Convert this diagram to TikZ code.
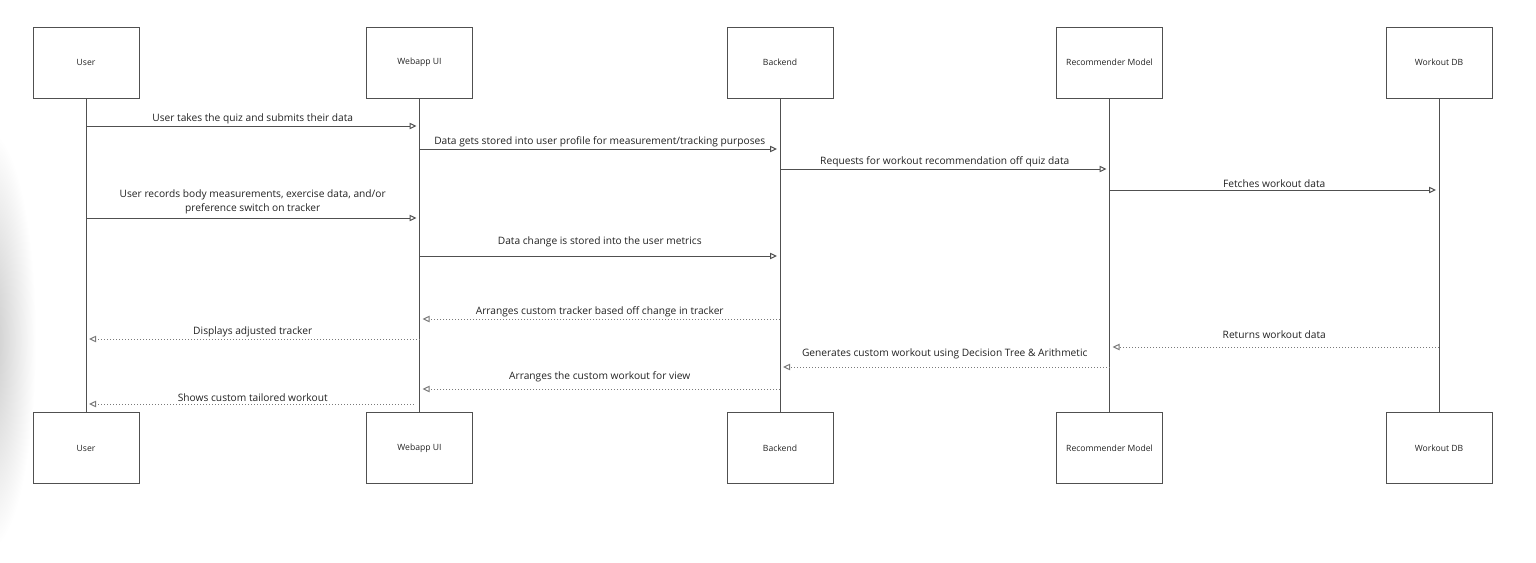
\documentclass[tikz,border=0pt]{standalone}
\usepackage{xcolor}
\usepackage{fontspec}
\setmainfont{Open Sans}
\usetikzlibrary{arrows.meta}

\definecolor{linecol}{HTML}{505050}
\definecolor{dotcol}{HTML}{7A7A7A}
\definecolor{txtcol}{HTML}{222222}

\tikzset{
	actor/.style={draw=linecol, line width=0.5pt, minimum width=53pt, minimum height=35.5pt, inner sep=0pt, text=txtcol, font=\fontsize{4.3}{5}\selectfont},
	life/.style={draw=linecol, line width=0.5pt},
	msg/.style={draw=linecol, line width=0.5pt, shorten >=1.5pt, -{Triangle[open, length=3.5pt, width=3.2pt]}},
	reply/.style={msg, draw=dotcol, densely dotted},
	lbl/.style={above, inner sep=1pt, text=txtcol, align=center, font=\fontsize{5.1}{7}\selectfont}
}

\begin{document}
\begin{tikzpicture}[x=0.5pt, y=-0.5pt]
	\useasboundingbox (0,0) rectangle (1536,562);
	\shade[inner color=black!22, outer color=white] (-12,340) ellipse (48 and 210);

	\path (86,62.5) node[actor] (user) {User};
	\path (419.5,62.5) node[actor] (web) {Webapp UI};
	\path (780,62.5) node[actor] (back) {Backend};
	\path (1109.5,62.5) node[actor] (rec) {Recommender Model};
	\path (1439,62.5) node[actor] (db) {Workout DB};

	\path (86,448) node[actor] (userB) {User};
	\path (419.5,448) node[actor] (webB) {Webapp UI};
	\path (780,448) node[actor] (backB) {Backend};
	\path (1109.5,448) node[actor] (recB) {Recommender Model};
	\path (1439,448) node[actor] (dbB) {Workout DB};

	\draw[life] (user) -- (userB);
	\draw[life] (web) -- (webB);
	\draw[life] (back) -- (backB);
	\draw[life] (rec) -- (recB);
	\draw[life] (db) -- (dbB);

	\draw[msg] (user |- 0,126) -- (web |- 0,126) node[midway, lbl] {User takes the quiz and submits their data};
	\draw[msg] (web |- 0,149) -- (back |- 0,149) node[midway, lbl] {Data gets stored into user profile for measurement/tracking purposes};
	\draw[msg] (back |- 0,169) -- (rec |- 0,169) node[midway, lbl] {Requests for workout recommendation off quiz data};
	\draw[msg] (rec |- 0,190) -- (db |- 0,190) node[midway, lbl] {Fetches workout data};
	\draw[msg] (user |- 0,218) -- (web |- 0,218) node[midway, lbl, yshift=1pt] {User records body measurements, exercise data, and/or\\preference switch on tracker};
	\draw[msg] (web |- 0,256) -- (back |- 0,256) node[midway, lbl, yshift=3.5pt] {Data change is stored into the user metrics};

	\draw[reply] (back |- 0,319) -- (web |- 0,319) node[midway, lbl] {Arranges custom tracker based off change in tracker};
	\draw[reply] (web |- 0,339) -- (user |- 0,339) node[midway, lbl] {Displays adjusted tracker};
	\draw[reply] (db |- 0,347) -- (rec |- 0,347) node[midway, lbl, yshift=3pt] {Returns workout data};
	\draw[reply] (rec |- 0,367) -- (back |- 0,367) node[midway, lbl, yshift=3pt] {Generates custom workout using Decision Tree \& Arithmetic};
	\draw[reply] (back |- 0,389) -- (web |- 0,389) node[midway, lbl, yshift=2.5pt] {Arranges the custom workout for view};
	\draw[reply, shorten <=3pt] (web |- 0,404) -- (user |- 0,404) node[midway, lbl] {Shows custom tailored workout};
\end{tikzpicture}
\end{document}
